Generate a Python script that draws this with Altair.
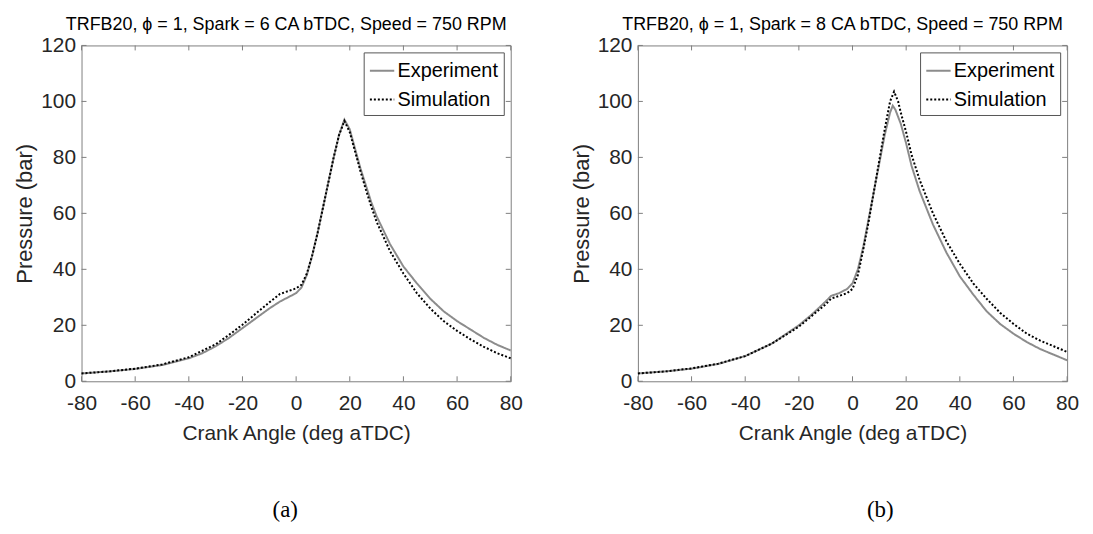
import altair as alt
import pandas as pd

# ---------------- data ----------------
# Panel (a): Spark = 6 CA bTDC
a_exp_angle = [-80, -70, -60, -50, -40, -35, -30, -25, -20, -15, -10, -6, -3, 0, 2, 4, 6, 8, 10,
               12, 14, 16, 18, 20, 22, 24, 26, 28, 30, 35, 40, 45, 50, 55, 60, 65, 70, 75, 80]
a_exp_p = [2.8, 3.5, 4.4, 5.8, 8.2, 10.0, 12.5, 15.5, 19.0, 22.5, 26.0, 28.5, 30.0, 31.5, 33.5, 38, 45,
           53, 62, 71, 80, 88, 93.5, 90, 83, 76, 70, 64, 59, 49, 41, 35, 29.5, 25, 21.5, 18.5, 15.5, 13, 11]
a_sim_angle = [-80, -70, -60, -50, -40, -30, -25, -20, -15, -10, -6, -3, 0, 2, 4, 6, 8, 10,
               12, 14, 16, 18, 20, 22, 24, 26, 28, 30, 35, 40, 45, 50, 55, 60, 65, 70, 75, 80]
a_sim_p = [2.8, 3.5, 4.5, 6.0, 8.6, 13.2, 16.6, 20.2, 24.2, 28.2, 31.2, 32.2, 33.2, 34.5, 38.5, 45,
           53, 62, 71, 80, 88, 93, 89, 82, 75, 68.5, 62.5, 57, 46.5, 38.5, 31.5, 26, 21.5, 18, 15, 12.3, 10, 8.2]

# Panel (b): Spark = 8 CA bTDC
b_exp_angle = [-80, -70, -60, -50, -40, -30, -20, -15, -10, -8, -5, -2, 0, 2, 4, 6, 8, 10, 12, 14,
               15, 16, 18, 20, 22, 25, 30, 35, 40, 45, 50, 55, 60, 65, 70, 75, 80]
b_exp_p = [2.8, 3.5, 4.5, 6.2, 9.0, 13.5, 20.0, 24.0, 28.5, 30.5, 31.5, 33.0, 35.0, 40, 48, 58, 68, 78,
           88, 96, 98.5, 97, 92, 85, 77, 68, 56, 46, 37.5, 31, 25, 20.5, 17, 14, 11.5, 9.5, 7.5]
b_sim_angle = [-80, -70, -60, -50, -40, -30, -20, -15, -10, -8, -5, -2, 0, 2, 4, 6, 8, 10, 12, 14,
               15.5, 17, 18, 20, 22, 25, 30, 35, 40, 45, 50, 55, 60, 65, 70, 75, 80]
b_sim_p = [2.8, 3.5, 4.6, 6.3, 9.0, 13.5, 19.5, 23.5, 27.5, 29.5, 30.5, 31.5, 33.0, 38, 47, 57, 68, 79,
           90, 100, 103.5, 100, 96, 89, 81, 72, 60, 50, 42, 35, 29.5, 24.5, 20.5, 17, 14.5, 12.5, 10.5]

x_ticks = [-80, -60, -40, -20, 0, 20, 40, 60, 80]
y_ticks = [0, 20, 40, 60, 80, 100, 120]
series_names = ["Experiment", "Simulation"]
titles = ["TRFB20, \u03d5 = 1, Spark = 6 CA bTDC, Speed = 750 RPM",
          "TRFB20, \u03d5 = 1, Spark = 8 CA bTDC, Speed = 750 RPM"]
captions = ["(a)", "(b)"]

# ---------------- styling ----------------
W, H = 432, 338
FONT = "Liberation Sans"
AXIS_GRAY = "#7f7f7f"
LABEL_COLOR = "#262626"


def make_df(exp_a, exp_p, sim_a, sim_p):
    rows = [{"angle": a, "p": p, "series": "Experiment"} for a, p in zip(exp_a, exp_p)]
    rows += [{"angle": a, "p": p, "series": "Simulation"} for a, p in zip(sim_a, sim_p)]
    return pd.DataFrame(rows)


def panel(df, title, caption, cap_dx):
    xs = alt.Scale(domain=[-80, 80], nice=False)
    ys = alt.Scale(domain=[0, 120], nice=False)

    lines = alt.Chart(df).mark_line(strokeWidth=2).encode(
        x=alt.X("angle:Q", scale=xs, title="Crank Angle (deg aTDC)",
                axis=alt.Axis(values=x_ticks, ticks=False, grid=False, domain=False,
                              labelFlush=False, labelExpr="'' + datum.value",
                              labelPadding=11, titlePadding=10, titleFontSize=21)),
        y=alt.Y("p:Q", scale=ys, title="Pressure (bar)",
                axis=alt.Axis(values=y_ticks, ticks=False, grid=False, domain=False,
                              labelFlush=False, labelExpr="'' + datum.value",
                              labelPadding=6, titlePadding=4, titleFontSize=22)),
        color=alt.Color("series:N", scale=alt.Scale(domain=series_names, range=["#8c8c8c", "#000000"]),
                        legend=alt.Legend(title=None, orient="top-right", offset=7,
                                          fillColor="white", strokeColor="#555555",
                                          padding=5, labelFontSize=20, labelFont=FONT,
                                          labelColor="#000000", symbolType="stroke",
                                          symbolSize=600, symbolStrokeWidth=2,
                                          labelOffset=2, rowPadding=5)),
        strokeDash=alt.StrokeDash("series:N", scale=alt.Scale(domain=series_names,
                                                            range=[[1, 0], [2, 2]]),
                                  legend=alt.Legend(title=None, orient="top-right", offset=7)),
        order=alt.Order("angle:Q"),
    )

    xt = pd.DataFrame({"v": x_ticks})
    yt = pd.DataFrame({"v": y_ticks})
    tick_len = 5
    bot = alt.Chart(xt).mark_rule(color=AXIS_GRAY, strokeWidth=1).encode(
        x=alt.X("v:Q", scale=xs), y=alt.value(H), y2=alt.value(H - tick_len))
    top = alt.Chart(xt).mark_rule(color=AXIS_GRAY, strokeWidth=1).encode(
        x=alt.X("v:Q", scale=xs), y=alt.value(0), y2=alt.value(tick_len))
    lft = alt.Chart(yt).mark_rule(color=AXIS_GRAY, strokeWidth=1).encode(
        y=alt.Y("v:Q", scale=ys), x=alt.value(0), x2=alt.value(tick_len))
    rgt = alt.Chart(yt).mark_rule(color=AXIS_GRAY, strokeWidth=1).encode(
        y=alt.Y("v:Q", scale=ys), x=alt.value(W), x2=alt.value(W - tick_len))

    cap = alt.Chart(pd.DataFrame({"t": [caption]})).mark_text(
        font="Liberation Serif", fontSize=23, color="#000000", baseline="middle", align="center"
    ).encode(text="t:N", x=alt.value(W / 2 + cap_dx), y=alt.value(H + 130))

    return alt.layer(lines, bot, top, lft, rgt, cap).properties(
        width=W, height=H,
        title=alt.TitleParams(title, fontSize=18, font=FONT, fontWeight="normal",
                              color="#000000", offset=1, anchor="middle", dx=-10),
    )


df_a = make_df(a_exp_angle, a_exp_p, a_sim_angle, a_sim_p)
df_b = make_df(b_exp_angle, b_exp_p, b_sim_angle, b_sim_p)

chart = alt.hconcat(
    panel(df_a, titles[0], captions[0], -11),
    panel(df_b, titles[1], captions[1], 28),
    spacing=46,
).resolve_scale(color="independent", strokeDash="independent").resolve_legend(
    color="independent", strokeDash="independent"
).properties(padding=5).configure_view(
    stroke=AXIS_GRAY, strokeWidth=1
).configure_axis(
    labelFont=FONT, labelFontSize=21, labelColor=LABEL_COLOR,
    titleFont=FONT, titleFontWeight="normal", titleColor=LABEL_COLOR,
)

chart.save("out.html", embed_options={"renderer": "svg", "actions": False})
